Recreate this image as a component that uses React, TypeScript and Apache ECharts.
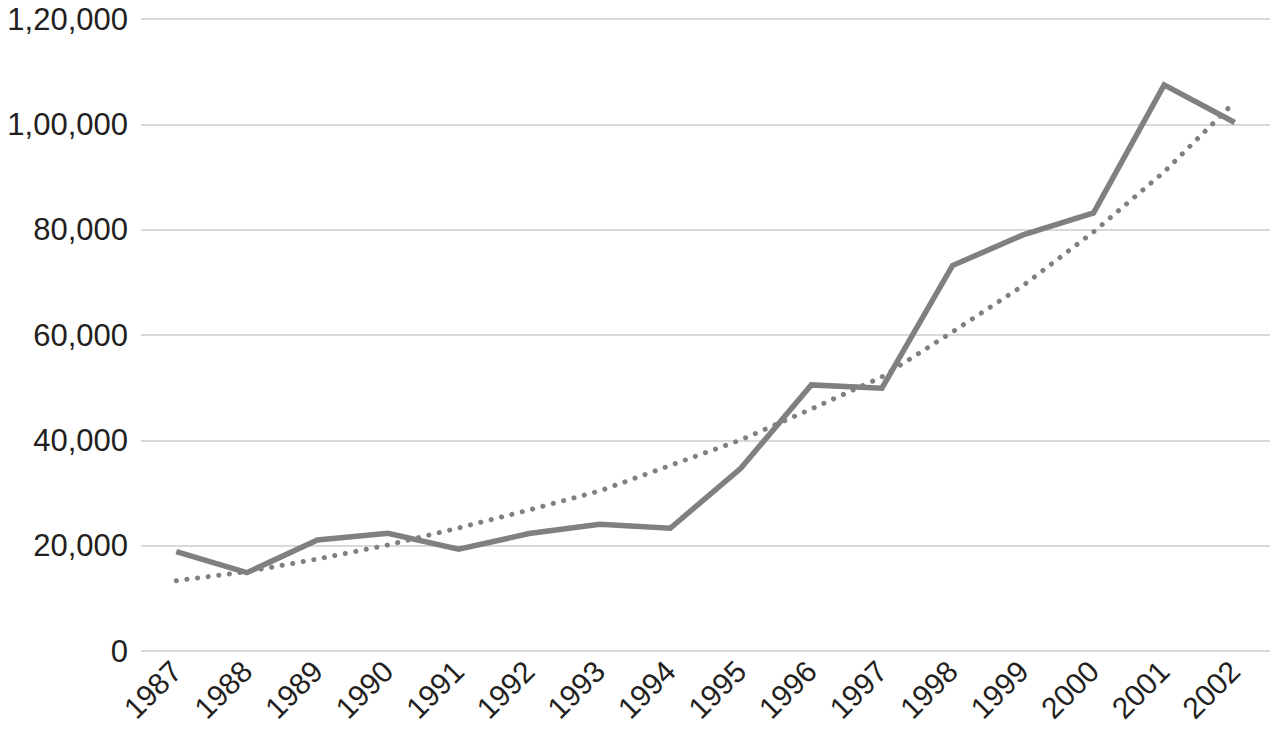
import React, { useEffect, useRef } from "react";
import * as echarts from "echarts";

const years = ["1987","1988","1989","1990","1991","1992","1993","1994","1995","1996","1997","1998","1999","2000","2001","2002"];
const actual = [18860, 14870, 21080, 22350, 19310, 22300, 24060, 23300, 34700, 50520, 49890, 73180, 79010, 83190, 107500, 100340];
const trend = [13350, 15060, 17470, 20130, 23360, 26780, 30390, 35230, 40080, 45960, 52040, 60590, 69380, 79580, 90980, 104270];
const yTickLabels = ["0", "20,000", "40,000", "60,000", "80,000", "1,00,000", "1,20,000"];

export default function App() {
  const ref = useRef<HTMLDivElement>(null);
  useEffect(() => {
    if (!ref.current) return;
    const chart = echarts.init(ref.current, null, { renderer: "svg" });
    const font = "'Liberation Sans', Arial, Helvetica, sans-serif";
    chart.setOption({
      animation: false,
      backgroundColor: "#ffffff",
      grid: { left: 141, right: 0, top: 19, bottom: 86, containLabel: false },
      xAxis: {
        type: "category",
        data: years,
        boundaryGap: true,
        axisLine: { show: false },
        axisTick: { show: false },
        axisLabel: {
          rotate: 45,
          interval: 0,
          margin: 15,
          fontSize: 30,
          color: "#231f20",
          fontFamily: font,
        },
      },
      yAxis: {
        type: "value",
        min: 0,
        max: 120000,
        interval: 20000,
        axisLine: { show: false },
        axisTick: { show: false },
        splitLine: { lineStyle: { color: "#d9d9d9", width: 2 } },
        axisLabel: {
          margin: 13,
          fontSize: 31,
          color: "#231f20",
          fontFamily: font,
          formatter: (v: number) => yTickLabels[Math.round(v / 20000)] ?? String(v),
        },
      },
      series: [
        {
          type: "line",
          data: trend,
          symbol: "none",
          lineStyle: { color: "#808082", width: 5, type: [0.1, 10.6], cap: "round" },
          z: 2,
        },
        {
          type: "line",
          data: actual,
          symbol: "none",
          lineStyle: { color: "#808082", width: 5.5, cap: "butt", join: "miter" },
          z: 3,
        },
      ],
    });
    return () => chart.dispose();
  }, []);
  return (
    <div
      ref={ref}
      style={{ position: "fixed", left: 0, top: 0, width: 1270, height: 737, background: "#fff" }}
    />
  );
}
